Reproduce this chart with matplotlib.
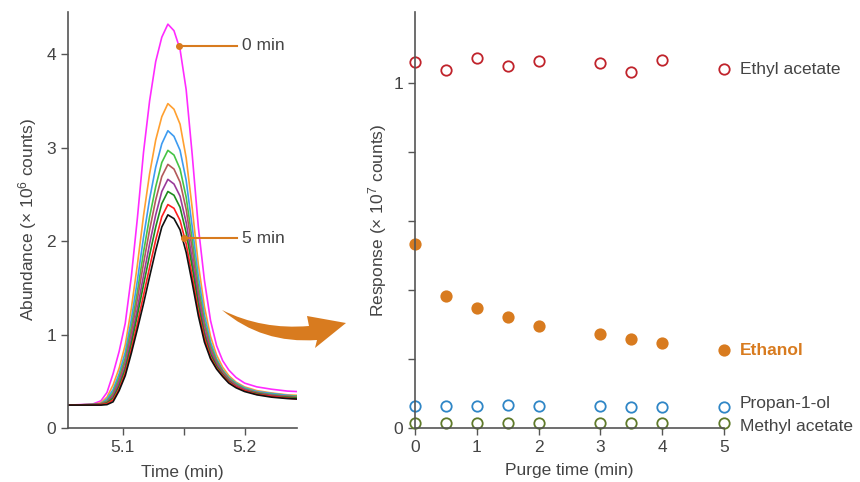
import matplotlib
matplotlib.use("Agg")
import matplotlib.pyplot as plt
from matplotlib.patches import PathPatch
from matplotlib.path import Path

plt.rcParams['font.family'] = ['Liberation Sans', 'DejaVu Sans']
plt.rcParams['mathtext.default'] = 'regular'

# --- left: chromatograms (x 10^6 counts) ---
t = [5.055, 5.075, 5.082, 5.087, 5.092, 5.097, 5.102, 5.107, 5.112, 5.117,
     5.122, 5.127, 5.132, 5.137, 5.142, 5.147, 5.152, 5.157, 5.162, 5.167,
     5.172, 5.177, 5.182, 5.187, 5.193, 5.200, 5.210, 5.222, 5.235, 5.243]

c_magenta = [0.245, 0.255, 0.29, 0.38, 0.58, 0.82, 1.12, 1.62, 2.25, 2.95,
             3.50, 3.92, 4.18, 4.32, 4.25, 4.05, 3.62, 2.92, 2.15, 1.58,
             1.15, 0.88, 0.72, 0.62, 0.54, 0.48, 0.44, 0.415, 0.395, 0.39]
c_orange = [0.245, 0.25, 0.27, 0.33, 0.46, 0.64, 0.89, 1.28, 1.75, 2.27,
            2.72, 3.08, 3.33, 3.47, 3.41, 3.25, 2.89, 2.35, 1.75, 1.30,
            0.98, 0.78, 0.65, 0.56, 0.49, 0.44, 0.40, 0.375, 0.355, 0.35]
c_blue = [0.245, 0.25, 0.26, 0.31, 0.41, 0.58, 0.81, 1.16, 1.58, 2.04,
          2.45, 2.79, 3.04, 3.18, 3.12, 2.97, 2.65, 2.15, 1.62, 1.21,
          0.92, 0.74, 0.62, 0.54, 0.48, 0.43, 0.39, 0.37, 0.35, 0.34]
c_lgreen = [0.245, 0.25, 0.26, 0.29, 0.38, 0.54, 0.75, 1.08, 1.46, 1.88,
            2.26, 2.58, 2.84, 2.97, 2.92, 2.77, 2.47, 2.01, 1.52, 1.14,
            0.88, 0.72, 0.61, 0.53, 0.47, 0.42, 0.38, 0.36, 0.34, 0.34]
c_brown = [0.245, 0.25, 0.26, 0.28, 0.36, 0.51, 0.71, 1.02, 1.38, 1.76,
           2.12, 2.44, 2.69, 2.82, 2.77, 2.63, 2.34, 1.91, 1.45, 1.10,
           0.85, 0.70, 0.60, 0.52, 0.46, 0.41, 0.38, 0.35, 0.34, 0.33]
c_purple = [0.245, 0.25, 0.25, 0.27, 0.34, 0.48, 0.66, 0.95, 1.28, 1.63,
            1.97, 2.28, 2.53, 2.66, 2.61, 2.48, 2.20, 1.80, 1.38, 1.04,
            0.82, 0.68, 0.58, 0.51, 0.45, 0.41, 0.37, 0.35, 0.33, 0.32]
c_dgreen = [0.245, 0.25, 0.25, 0.27, 0.32, 0.45, 0.63, 0.90, 1.21, 1.53,
            1.85, 2.15, 2.40, 2.53, 2.49, 2.36, 2.09, 1.72, 1.32, 1.00,
            0.79, 0.66, 0.57, 0.50, 0.44, 0.40, 0.37, 0.34, 0.33, 0.32]
c_red = [0.245, 0.245, 0.25, 0.26, 0.30, 0.42, 0.59, 0.84, 1.12, 1.42,
         1.72, 2.01, 2.26, 2.39, 2.35, 2.22, 1.97, 1.62, 1.25, 0.96,
         0.76, 0.64, 0.56, 0.49, 0.44, 0.40, 0.36, 0.34, 0.32, 0.31]
c_black = [0.245, 0.245, 0.245, 0.25, 0.28, 0.40, 0.56, 0.80, 1.06, 1.33,
           1.62, 1.90, 2.15, 2.28, 2.24, 2.12, 1.88, 1.55, 1.20, 0.92,
           0.74, 0.63, 0.55, 0.48, 0.43, 0.39, 0.355, 0.33, 0.315, 0.31]

chrom = [c_magenta, c_orange, c_blue, c_lgreen, c_brown, c_purple, c_dgreen, c_red, c_black]
chrom_colors = ['#ff2bff', '#ffa030', '#3d9bf0', '#45c445', '#b35a5a',
                '#9a3a9a', '#1e8c1e', '#ff2020', '#111111']

# --- right: response vs purge time (x 10^7 counts) ---
purge = [0, 0.5, 1, 1.5, 2, 3, 3.5, 4, 5]
ethyl_acetate = [1.060, 1.039, 1.074, 1.050, 1.064, 1.059, 1.032, 1.066, 1.040]
ethanol = [0.532, 0.383, 0.347, 0.321, 0.296, 0.272, 0.257, 0.245, 0.226]
propanol = [0.064, 0.064, 0.064, 0.066, 0.064, 0.063, 0.062, 0.062, 0.062]
methyl_acetate = [0.015, 0.015, 0.015, 0.015, 0.015, 0.015, 0.015, 0.015, 0.015]

grey = '#555555'
txt = '#444444'
orange = '#d87b1f'

fig = plt.figure(figsize=(8.6, 4.82), dpi=100)

# left panel
ax1 = fig.add_axes([68/860, 54/482, 229/860, 416/482])
for c, col in zip(chrom, chrom_colors):
    ax1.plot(t, c, color=col, lw=1.2)
ax1.set_xlim(5.055, 5.243)
ax1.set_ylim(0, 4.45)
ax1.set_xticks([5.1, 5.15, 5.2])
ax1.set_xticklabels(['5.1', '', '5.2'])
ax1.set_yticks([0, 1, 2, 3, 4])
ax1.set_xlabel('Time (min)', fontsize=12.5, color=txt, labelpad=7)
ax1.set_ylabel('Abundance (× 10$^{6}$ counts)', fontsize=12.5, color=txt, labelpad=5)

# annotations 0 min / 5 min
for xd, yd, lab in [(5.1459, 4.09, '0 min'), (5.150, 2.03, '5 min')]:
    ax1.plot([xd, 5.1934], [yd, yd], color=orange, lw=1.5, clip_on=False)
    ax1.plot(xd, yd, 'o', color=orange, ms=4, clip_on=False)
    ax1.text(5.1975, yd, lab, fontsize=12.5, color=txt, va='center', ha='left')

# right panel
ax2 = fig.add_axes([415/860, 54/482, 445/860, 416/482])
ax2.set_xlim(0, 7.2)
ax2.set_ylim(0, 1.206)
mk = dict(ls='none', marker='o', ms=7.5, mew=1.3, clip_on=False)
ax2.plot(purge, ethyl_acetate, mfc='white', mec='#c0232b', **mk)
ax2.plot(purge, ethanol, mfc=orange, mec=orange, **mk)
ax2.plot(purge, propanol, mfc='white', mec='#2f86c6', **mk)
ax2.plot(purge, methyl_acetate, mfc='white', mec='#5f7a2a', **mk)
ax2.spines['bottom'].set_bounds(0, 5)
ax2.set_xticks([0, 1, 2, 3, 4, 5])
ax2.set_yticks([0, 0.2, 0.4, 0.6, 0.8, 1.0])
ax2.set_yticklabels(['0', '', '', '', '', '1'])
ax2.set_xlabel('Purge time (min)', fontsize=12.5, color=txt, labelpad=7)
ax2.xaxis.set_label_coords(2.5 / 7.2, -0.085)
ax2.set_ylabel('Response (× 10$^{7}$ counts)', fontsize=12.5, color=txt, labelpad=3)

lx = 5.26
ax2.text(lx, 1.038, 'Ethyl acetate', fontsize=12.5, color=txt, va='center')
ax2.text(lx, 0.226, 'Ethanol', fontsize=12.5, color=orange, va='center', fontweight='bold')
ax2.text(lx, 0.072, 'Propan-1-ol', fontsize=12.5, color=txt, va='center')
ax2.text(lx, 0.003, 'Methyl acetate', fontsize=12.5, color=txt, va='center')

for ax in (ax1, ax2):
    for s in ('top', 'right'):
        ax.spines[s].set_visible(False)
    for s in ('left', 'bottom'):
        ax.spines[s].set_color(grey)
        ax.spines[s].set_linewidth(1.2)
    ax.tick_params(colors=grey, labelcolor=txt, labelsize=12.5, length=5, width=1)

# curved arrow between panels (figure pixels, y measured from top)
arrow_px = [(222, 310),
            (262, 330), (309, 326),     # upper edge (quadratic)
            (307, 316), (346, 323), (315, 348),   # head
            (317, 340),
            (262, 344), (222, 310),     # lower edge (quadratic)
            (222, 310)]
codes = [Path.MOVETO, Path.CURVE3, Path.CURVE3, Path.LINETO, Path.LINETO,
         Path.LINETO, Path.LINETO, Path.CURVE3, Path.CURVE3, Path.CLOSEPOLY]
arrow_fig = [(x / 860, 1 - y / 482) for x, y in arrow_px]
fig.patches.append(PathPatch(Path(arrow_fig, codes), transform=fig.transFigure,
                             facecolor=orange, edgecolor='none'))

fig.savefig('out.png', dpi=100)
